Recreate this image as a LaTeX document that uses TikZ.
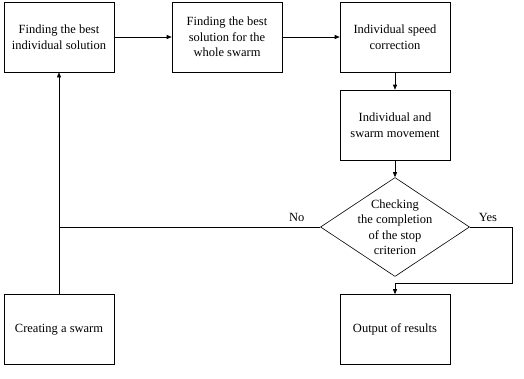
\documentclass[tikz,border=0pt]{standalone}
\usepackage{fontspec}
\setmainfont{Liberation Serif}
\usetikzlibrary{arrows.meta, shapes.geometric}

\begin{document}
\begin{tikzpicture}[x=1pt, y=-1pt, line width=0.6pt,
    flowbox/.style={draw, minimum width=110pt, minimum height=70pt, inner sep=2pt,
      align=center, font=\fontsize{12.5}{15.5}\selectfont},
    checkbox/.style={draw, diamond, aspect=1.5, minimum width=149pt, minimum height=99pt,
      inner sep=-5pt, align=center, font=\fontsize{12.5}{15.5}\selectfont},
    flowarrow/.style={-{Triangle[length=5pt, width=4pt]}},
    branchlabel/.style={font=\fontsize{12.5}{15.5}\selectfont, above=2pt}]
    \useasboundingbox (0,0) rectangle (524,378);
    % top row
    \node[flowbox] (bestown) at (59,37) {Finding the best\\individual solution};
    \node[flowbox] (bestswarm) at (227,37) {Finding the best\\solution for the\\whole swarm};
    \node[flowbox] (speed) at (395,37) {Individual speed\\correction};
    \node[flowbox] (move) at (395,125) {Individual and\\swarm movement};
    \node[checkbox] (stop) at (395,227) {Checking\\the completion\\of the stop\\criterion};
    % bottom row
    \node[flowbox] (create) at (59,329.5) {Creating a swarm};
    \node[flowbox] (output) at (395,329.5) {Output of results};
    \coordinate (yesbend) at (512,283);

    \draw[flowarrow] (bestown) -- (bestswarm);
    \draw[flowarrow] (bestswarm) -- (speed);
    \draw[flowarrow] (speed) -- (move);
    \draw[flowarrow] (move) -- (stop);
    \draw[flowarrow] (create) -- (bestown);
    \draw (stop.west) -- node[branchlabel, pos=0.09]{No} (stop.west -| create);
    \draw[flowarrow] (stop.east) -| (yesbend) -| (output.north);
    \node[branchlabel] (yeslabel) at (488,227) {Yes};
  \end{tikzpicture}
\end{document}
